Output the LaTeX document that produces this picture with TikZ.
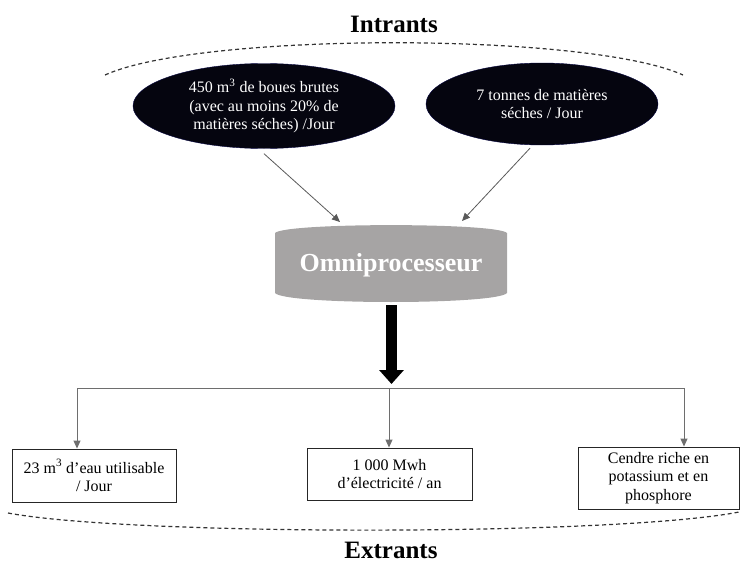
\documentclass[tikz,border=0pt]{standalone}
\usepackage{fontspec}
\setmainfont{Liberation Serif}
\usetikzlibrary{arrows.meta,shapes.geometric}
\definecolor{omnigray}{RGB}{166,164,164}
\definecolor{linegray}{RGB}{110,110,110}
\definecolor{ellblack}{RGB}{5,5,15}
\tikzset{
  body/.style={font=\fontsize{16}{18.5}\selectfont, align=center},
  inel/.style={ellipse, fill=ellblack, draw=ellblack!80!blue, text=white, body, inner sep=0pt},
  outbox/.style={rectangle, draw=black!85, line width=0.9pt, fill=white, body, inner sep=0pt},
  title/.style={font=\fontsize{25}{28}\selectfont\bfseries, inner sep=0pt},
  arcline/.style={draw=black!80, line width=1.2pt, dash pattern=on 4pt off 3pt},
  thinarr/.style={draw=black!65, line width=0.8pt, -{Triangle[length=8pt,width=7pt]}},
  brarr/.style={draw=linegray, line width=0.9pt, -{Triangle[length=8pt,width=7pt]}},
}
\begin{document}
\begin{tikzpicture}[x=1pt,y=-1pt]
\useasboundingbox (0,0) rectangle (740,562);
% titles
\node[title, anchor=base] (intr) at (394,32) {Intrants};
\node[title, anchor=base] (extr) at (391,558) {Extrants};
% dashed arcs
\coordinate (tl) at (105,75);
\coordinate (tr) at (683,75);
\draw[arcline] (tl) .. controls (200,32) and (588,32) .. (tr);
\coordinate (bl2) at (8,513);
\coordinate (br2) at (739,512);
\draw[arcline] (bl2) .. controls (130,536) and (617,536) .. (br2);
% input ellipses
\node[inel, minimum width=262pt, minimum height=85pt] (L) at (264,106)
  {450 m\textsuperscript{3} de boues brutes\\(avec au moins 20\% de\\matières séches) /Jour};
\node[inel, minimum width=232pt, minimum height=82pt] (R) at (542,104)
  {7 tonnes de matières\\séches / Jour};
% omniprocessor
\path[fill=omnigray] (275,233) .. controls (285,222.5) and (497,222.5) .. (507,233)
  -- (507,293) .. controls (497,305) and (285,305) .. (275,293) -- cycle;
\node[font=\fontsize{26}{30}\selectfont\bfseries, text=white, minimum width=232pt, minimum height=70pt] (omni) at (391,265) {Omniprocesseur};
\coordinate (omniL) at (340,222);
\coordinate (omniR) at (462,221);
\draw[thinarr] ([yshift=-5pt]L.south) -- (omniL);
\draw[thinarr] ([shift={(-12pt,-3pt)}]R.south) -- (omniR);
% thick arrow
\coordinate (omniB) at (391.5,305);
\coordinate (hub) at (391.5,384);
\draw[line width=11pt, -{Triangle[length=14pt,width=24pt]}] (omniB) -- (hub);
% distribution line
\coordinate (dl) at (77,388);
\coordinate (dm) at (389,388);
\coordinate (dr) at (684,388);
\draw[draw=linegray, line width=0.9pt] (dl) -- (dr);
% output boxes
\node[outbox, minimum width=164pt, minimum height=53pt] (b1) at (94,475.5)
  {23 m\textsuperscript{3} d’eau utilisable\\/ Jour};
\node[outbox, minimum width=165pt, minimum height=52pt] (b2) at (389.5,474)
  {1 000 Mwh\\d’électricité / an};
\node[outbox, minimum width=161pt, minimum height=62pt] (b3) at (658.5,478)
  {Cendre riche en\\potassium et en\\phosphore};
\draw[brarr] (dl) -- (dl |- b1.north);
\draw[brarr] (dm) -- (dm |- b2.north);
\draw[brarr] (dr) -- (dr |- b3.north);
\end{tikzpicture}
\end{document}
